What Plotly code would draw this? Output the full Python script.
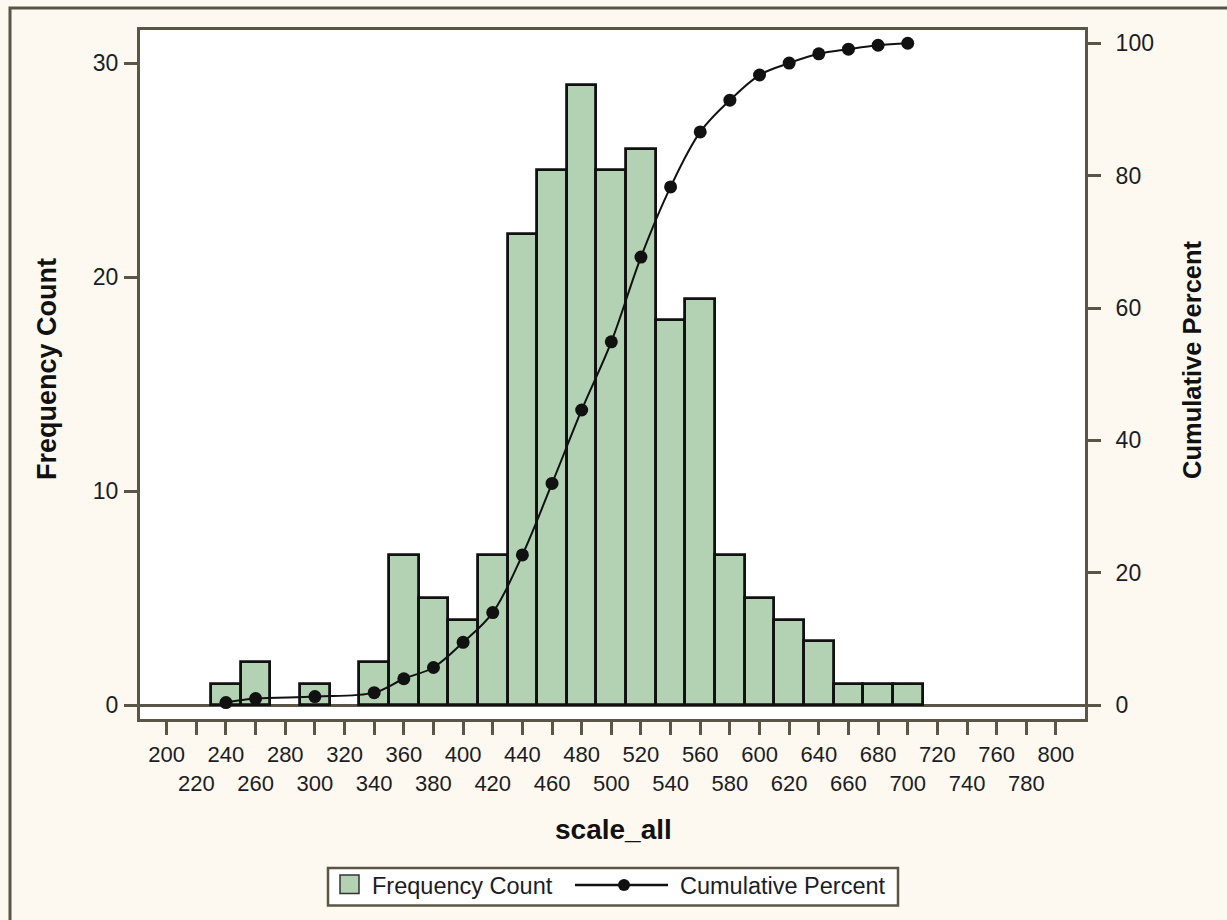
import plotly.graph_objects as go

# Histogram of scale_all: bin midpoints (width 20) and counts
bin_mid = [240, 260, 280, 300, 320, 340, 360, 380, 400, 420, 440, 460,
           480, 500, 520, 540, 560, 580, 600, 620, 640, 660, 680, 700]
freq = [1, 2, 0, 1, 0, 2, 7, 5, 4, 7, 22, 25,
        29, 25, 26, 18, 19, 7, 5, 4, 3, 1, 1, 1]

# Cumulative percent, evaluated at each non-empty bin midpoint
cum_x = [240, 260, 300, 340, 360, 380, 400, 420, 440, 460, 480, 500,
         520, 540, 560, 580, 600, 620, 640, 660, 680, 700]
cum_pct = [0.4, 1.0, 1.3, 1.9, 4.0, 5.7, 9.5, 14.0, 22.7, 33.5, 44.6, 54.9,
           67.7, 78.3, 86.6, 91.4, 95.2, 97.0, 98.4, 99.1, 99.7, 100.0]

x_ticks = list(range(200, 801, 20))
y_ticks = [0, 10, 20, 30]
y2_ticks = [0, 20, 40, 60, 80, 100]

FRAME = "#5A5546"
BAR_FILL = "#B3D2B4"
TXT = "#1c1c24"
FONT = "Liberation Sans, Arial, sans-serif"

# plot-area geometry in pixels (used for placing decorations in paper units)
W_FIG, H_FIG = 1227, 920
L, R, T, B = 140, 1085, 30, 719
PW, PH = R - L, B - T


def px(x):
    return (x - L) / PW


def py(y):
    return (B - y) / PH


bx = [m for m, f in zip(bin_mid, freq) if f > 0]
by = [f for f in freq if f > 0]

fig = go.Figure()
fig.add_trace(go.Bar(
    x=bx, y=by, width=20,
    marker=dict(color=BAR_FILL, line=dict(color="#111111", width=2.8)),
    name="Frequency Count", yaxis="y", showlegend=False,
))
fig.add_trace(go.Scatter(
    x=cum_x, y=cum_pct, mode="lines+markers",
    line=dict(color="#111111", width=2, shape="spline"),
    marker=dict(color="#111111", size=13),
    name="Cumulative Percent", yaxis="y2", showlegend=False,
))

x_text = [str(v) if i % 2 == 0 else "<br>" + str(v) for i, v in enumerate(x_ticks)]

axis_common = dict(
    showline=True, linecolor=FRAME, linewidth=3,
    ticks="outside", ticklen=13, tickwidth=2.5, tickcolor=FRAME,
    showgrid=False, tickfont=dict(family=FONT, size=23, color=TXT),
)

fig.update_layout(
    width=W_FIG, height=H_FIG,
    margin=dict(l=L, r=W_FIG - R, t=T, b=H_FIG - B),
    paper_bgcolor="#FDF9F1", plot_bgcolor="#FFFFFF",
    showlegend=False, bargap=0,
    xaxis=dict(
        range=[182.0, 819.6], tickvals=x_ticks, ticktext=x_text,
        tickangle=0, mirror=True, zeroline=False, ticklabelstandoff=1,
        **{**axis_common, "tickfont": dict(family=FONT, size=22, color=TXT)},
    ),
    yaxis=dict(
        range=[-0.645, 31.55], tickvals=y_ticks,
        zeroline=True, zerolinecolor=FRAME, zerolinewidth=2.5,
        ticklabelstandoff=1,
        **axis_common,
    ),
    yaxis2=dict(
        range=[-2.08, 102.0], tickvals=y2_ticks, overlaying="y", side="right",
        zeroline=False, ticklabelstandoff=10,
        **axis_common,
    ),
)


def title_font(size):
    return dict(family=FONT, size=size, color="#111111", weight="bold")


annotations = [
    dict(text="Frequency Count", x=px(47), y=py(369), textangle=-90,
         font=title_font(27)),
    dict(text="Cumulative Percent", x=px(1192), y=py(360), textangle=-90,
         font=title_font(25.5)),
    dict(text="scale_all", x=px(613.5), y=py(829), font=title_font(28)),
]
leg_font = dict(family=FONT, size=23.5, color=TXT)
annotations += [
    dict(text="Frequency Count", x=px(370), y=py(886), xanchor="left",
         font=leg_font),
    dict(text="Cumulative Percent", x=px(678), y=py(886), xanchor="left",
         font=leg_font),
]
for a in annotations:
    a.update(xref="paper", yref="paper", showarrow=False)
    a.setdefault("xanchor", "center")
    a.setdefault("yanchor", "middle")
fig.update_layout(annotations=annotations)

shapes = [
    # outer frame (left and top edges visible)
    dict(type="rect", x0=px(10), x1=px(1300), y0=py(1000), y1=py(8),
         line=dict(color=FRAME, width=3), layer="below"),
    # legend box
    dict(type="rect", x0=px(328), x1=px(898), y0=py(905.5), y1=py(868),
         fillcolor="#FFFFFF", line=dict(color=FRAME, width=2.5)),
    # legend swatch for the bars
    dict(type="rect", x0=px(340), x1=px(359), y0=py(893.5), y1=py(875),
         fillcolor=BAR_FILL, line=dict(color="#333333", width=1.5)),
    # legend glyph for the cumulative line
    dict(type="line", x0=px(575), x1=px(668), y0=py(885), y1=py(885),
         line=dict(color="#111111", width=2.5)),
    dict(type="circle", x0=px(624 - 6), x1=px(624 + 6),
         y0=py(885 + 6), y1=py(885 - 6),
         fillcolor="#111111", line=dict(color="#111111", width=0)),
]
for s in shapes:
    s.update(xref="paper", yref="paper")
fig.update_layout(shapes=shapes)

fig.write_html("out.html")
